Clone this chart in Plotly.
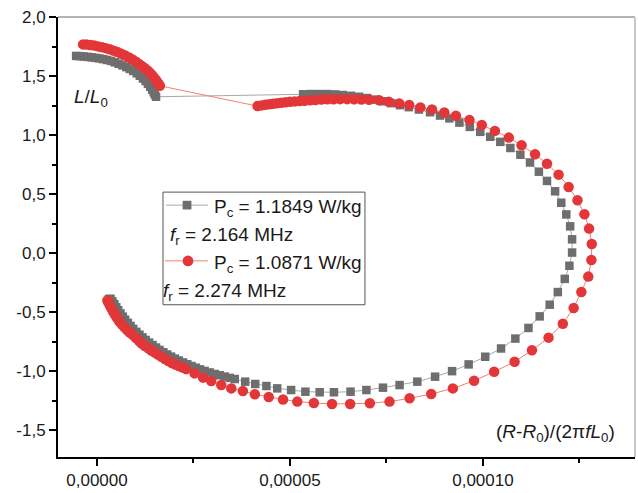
import plotly.graph_objects as go

# ---------------- data (x in units of 1e-5) ----------------
gray_x_e5 = [
    -0.54, -0.44, -0.34, -0.24, -0.14, -0.04, 0.06, 0.16, 0.26, 0.36, 0.46, 0.56, 0.66,
    0.76, 0.85, 0.94, 1.03, 1.11, 1.19, 1.26, 1.32, 1.38, 1.43, 1.47, 1.50, 1.53,
    5.34, 5.54, 5.75, 5.96, 6.17, 6.37, 6.58, 6.79, 7.00, 7.20, 7.41, 7.62, 7.85, 8.08,
    8.34, 8.63, 8.89, 9.13, 9.39, 9.66, 9.93, 10.19, 10.45, 10.71, 10.97, 11.22, 11.45,
    11.66, 11.87, 12.03, 12.16, 12.26, 12.31, 12.31, 12.24, 12.12, 11.94, 11.73, 11.47,
    11.18, 10.84, 10.47, 10.06, 9.63, 9.20, 8.76, 8.30, 7.84, 7.41, 6.98, 6.57, 6.14,
    5.77, 5.40, 5.03, 4.67, 4.39, 4.10, 3.84, 3.57,
    3.44, 3.31, 3.18, 3.05, 2.92, 2.79, 2.67, 2.56, 2.45, 2.34, 2.23, 2.12, 2.02, 1.92,
    1.82, 1.72, 1.62, 1.53, 1.44, 1.35, 1.26, 1.18, 1.10, 1.02, 0.94, 0.87, 0.80, 0.73,
    0.67, 0.61, 0.55, 0.50, 0.45, 0.40, 0.35, 0.31,
]
gray_y = [
    1.670, 1.668, 1.665, 1.662, 1.658, 1.654, 1.649, 1.643, 1.636, 1.628, 1.616, 1.604, 1.590,
    1.575, 1.560, 1.543, 1.523, 1.502, 1.479, 1.457, 1.434, 1.409, 1.384, 1.362, 1.343, 1.324,
    1.345, 1.347, 1.347, 1.347, 1.344, 1.339, 1.332, 1.324, 1.313, 1.300, 1.286, 1.270, 1.253, 1.236,
    1.216, 1.193, 1.165, 1.141, 1.105, 1.069, 1.027, 0.985, 0.942, 0.890, 0.833, 0.767, 0.689,
    0.611, 0.523, 0.426, 0.327, 0.226, 0.116, 0.004, -0.108, -0.219, -0.331, -0.438, -0.537,
    -0.635, -0.725, -0.809, -0.879, -0.944, -1.001, -1.048, -1.090, -1.119, -1.141, -1.161, -1.175, -1.180,
    -1.180, -1.175, -1.161, -1.147, -1.127, -1.110, -1.090, -1.068,
    -1.058, -1.047, -1.036, -1.025, -1.012, -0.999, -0.986, -0.972, -0.958, -0.943, -0.927, -0.911, -0.895, -0.878,
    -0.860, -0.841, -0.821, -0.801, -0.780, -0.759, -0.737, -0.715, -0.692, -0.668, -0.643, -0.618, -0.592, -0.565,
    -0.539, -0.512, -0.485, -0.460, -0.434, -0.410, -0.388, -0.390,
]

red_x_e5 = [
    -0.36, -0.27, -0.17, -0.07, 0.03, 0.13, 0.23, 0.33, 0.43, 0.53, 0.63, 0.73, 0.83, 0.92,
    1.01, 1.09, 1.17, 1.24, 1.31, 1.37, 1.43, 1.48, 1.53, 1.57, 1.60, 1.63,
    4.16, 4.26, 4.36, 4.46, 4.56, 4.66, 4.77, 4.88, 5.00, 5.12, 5.25, 5.38, 5.52, 5.66, 5.81,
    5.97, 6.13, 6.30, 6.48, 6.66, 6.85, 7.05,
    7.31, 7.56, 7.83, 8.09, 8.38, 8.68, 9.00, 9.30, 9.65, 9.97, 10.31, 10.67, 11.00, 11.35,
    11.66, 11.96, 12.22, 12.45, 12.63, 12.75, 12.82, 12.81, 12.73, 12.55, 12.35, 12.07, 11.70,
    11.27, 10.82, 10.29, 9.77, 9.22, 8.66, 8.10, 7.58, 7.07, 6.56, 6.09, 5.62, 5.19, 4.82,
    4.45, 4.09, 3.78, 3.48, 3.22, 2.96, 2.75, 2.53, 2.31,
    2.22, 2.12, 2.03, 1.94, 1.85, 1.76, 1.67, 1.58, 1.50, 1.41, 1.33, 1.24, 1.16, 1.09, 1.01,
    0.93, 0.85, 0.78, 0.71, 0.65, 0.58, 0.52, 0.47, 0.42, 0.38, 0.34, 0.30, 0.27,
]
red_y = [
    1.768, 1.766, 1.763, 1.758, 1.751, 1.744, 1.736, 1.726, 1.715, 1.703, 1.689, 1.674, 1.657, 1.640,
    1.621, 1.602, 1.583, 1.565, 1.546, 1.527, 1.506, 1.486, 1.466, 1.446, 1.430, 1.417,
    1.245, 1.251, 1.256, 1.261, 1.265, 1.269, 1.273, 1.277, 1.281, 1.285, 1.288, 1.291, 1.294, 1.297, 1.300,
    1.302, 1.303, 1.304, 1.304, 1.303, 1.301, 1.298,
    1.295, 1.282, 1.267, 1.254, 1.234, 1.217, 1.191, 1.164, 1.127, 1.085, 1.035, 0.978, 0.913, 0.837,
    0.756, 0.664, 0.559, 0.447, 0.329, 0.207, 0.076, -0.059, -0.200, -0.331, -0.466, -0.599, -0.717,
    -0.824, -0.922, -1.006, -1.082, -1.147, -1.195, -1.231, -1.259, -1.273, -1.279, -1.279, -1.271, -1.259, -1.241,
    -1.220, -1.197, -1.169, -1.147, -1.119, -1.085, -1.056, -1.020, -0.984,
    -0.971, -0.958, -0.945, -0.932, -0.916, -0.899, -0.880, -0.861, -0.844, -0.826, -0.807, -0.788, -0.767, -0.746, -0.721,
    -0.696, -0.674, -0.652, -0.630, -0.607, -0.580, -0.552, -0.525, -0.497, -0.472, -0.447, -0.424, -0.402,
]

x_tickvals = [0, 5e-5, 1e-4]
x_ticktext = ["0,00000", "0,00005", "0,00010"]
y_tickvals = [-1.5, -1.0, -0.5, 0.0, 0.5, 1.0, 1.5, 2.0]
y_ticktext = ["-1,5", "-1,0", "-0,5", "0,0", "0,5", "1,0", "1,5", "2,0"]

legend_lines = [
    "P<sub>c</sub> = 1.1849 W/kg",
    "<i>f</i><sub>r</sub> = 2.164 MHz",
    "P<sub>c</sub> = 1.0871 W/kg",
    "<i>f</i><sub>r</sub> = 2.274 MHz",
]

gray_x = [v * 1e-5 for v in gray_x_e5]
red_x = [v * 1e-5 for v in red_x_e5]

FONT = "Liberation Sans, Arial, sans-serif"
GRAY_M = "#6e6e6e"
GRAY_L = "#a8a8a8"
RED_M = "#e33638"
RED_L = "#f2806f"

fig = go.Figure()
fig.add_trace(go.Scatter(
    x=gray_x, y=gray_y, mode="lines+markers",
    line=dict(color=GRAY_L, width=1),
    marker=dict(symbol="square", size=8.5, color=GRAY_M, line=dict(width=0)),
    showlegend=False,
))
fig.add_trace(go.Scatter(
    x=red_x, y=red_y, mode="lines+markers",
    line=dict(color=RED_L, width=1),
    marker=dict(symbol="circle", size=10.5, color=RED_M, line=dict(width=0)),
    showlegend=False,
))

axis_common = dict(
    showgrid=False, zeroline=False, showline=True, linecolor="black", linewidth=2,
    ticks="outside", ticklen=7, tickwidth=1.5, tickcolor="black",
    tickfont=dict(family=FONT, size=17, color="#1a1a1a"),
)
fig.update_xaxes(
    range=[-1.01e-5, 1.394e-4], tickmode="array", tickvals=x_tickvals, ticktext=x_ticktext,
    minor=dict(tickmode="linear", tick0=0, dtick=2.5e-5, ticks="outside", ticklen=4,
               tickwidth=1.5, tickcolor="black"),
    **axis_common,
)
fig.update_yaxes(
    range=[-1.7285, 2.0], tickmode="array", tickvals=y_tickvals, ticktext=y_ticktext,
    minor=dict(tickmode="linear", tick0=0, dtick=0.25, ticks="outside", ticklen=4,
               tickwidth=1.5, tickcolor="black"),
    **axis_common,
)

shapes = [
    # top and right frame (light gray)
    dict(type="line", xref="paper", yref="paper", x0=0, x1=1, y0=1, y1=1,
         line=dict(color="#b4b4b4", width=2)),
    dict(type="line", xref="paper", yref="paper", x0=1, x1=1, y0=0, y1=1,
         line=dict(color="#c8c8c8", width=2)),
    # legend box
    dict(type="rect", xref="paper", yref="paper", x0=0.182, x1=0.532, y0=0.346, y1=0.602,
         line=dict(color="#555555", width=1), fillcolor="white", layer="above"),
    # gray legend sample
    dict(type="line", xref="paper", yref="paper", x0=0.1872, x1=0.2600, y0=0.5724, y1=0.5724,
         line=dict(color=GRAY_L, width=1), layer="above"),
    dict(type="rect", xref="paper", yref="paper", x0=0.2236 - 0.0076, x1=0.2236 + 0.0076,
         y0=0.5724 - 0.0099, y1=0.5724 + 0.0099, line=dict(width=0), fillcolor=GRAY_M, layer="above"),
    # red legend sample
    dict(type="line", xref="paper", yref="paper", x0=0.1854, x1=0.2600, y0=0.4457, y1=0.4457,
         line=dict(color=RED_L, width=1), layer="above"),
    dict(type="circle", xref="paper", yref="paper", x0=0.2253 - 0.0093, x1=0.2253 + 0.0093,
         y0=0.4457 - 0.0121, y1=0.4457 + 0.0121, line=dict(width=0), fillcolor=RED_M, layer="above"),
]

tf = dict(family=FONT, size=19, color="#1a1a1a")
annotations = [
    dict(text=legend_lines[0], x=0.267, y=0.566, xref="paper", yref="paper",
         xanchor="left", yanchor="middle", showarrow=False, font=tf),
    dict(text=legend_lines[1], x=0.1906, y=0.503, xref="paper", yref="paper",
         xanchor="left", yanchor="middle", showarrow=False, font=tf),
    dict(text=legend_lines[2], x=0.267, y=0.439, xref="paper", yref="paper",
         xanchor="left", yanchor="middle", showarrow=False, font=tf),
    dict(text=legend_lines[3], x=0.1785, y=0.376, xref="paper", yref="paper",
         xanchor="left", yanchor="middle", showarrow=False, font=tf),
    dict(text="<i>L</i>/<i>L</i><sub>0</sub>", x=0.0572, y=0.815, xref="paper", yref="paper",
         xanchor="center", yanchor="middle", showarrow=False, font=tf),
    dict(text="(<i>R</i>-<i>R</i><sub>0</sub>)/(2π<i>fL</i><sub>0</sub>)", x=0.9688, y=0.055,
         xref="paper", yref="paper", xanchor="right", yanchor="middle", showarrow=False, font=tf),
]

fig.update_layout(
    width=638, height=493, autosize=False,
    margin=dict(l=58, r=3, t=17, b=34, pad=0),
    paper_bgcolor="white", plot_bgcolor="white",
    font=dict(family=FONT, size=17, color="#1a1a1a"),
    shapes=shapes, annotations=annotations, showlegend=False,
)

fig.write_html("out.html")
